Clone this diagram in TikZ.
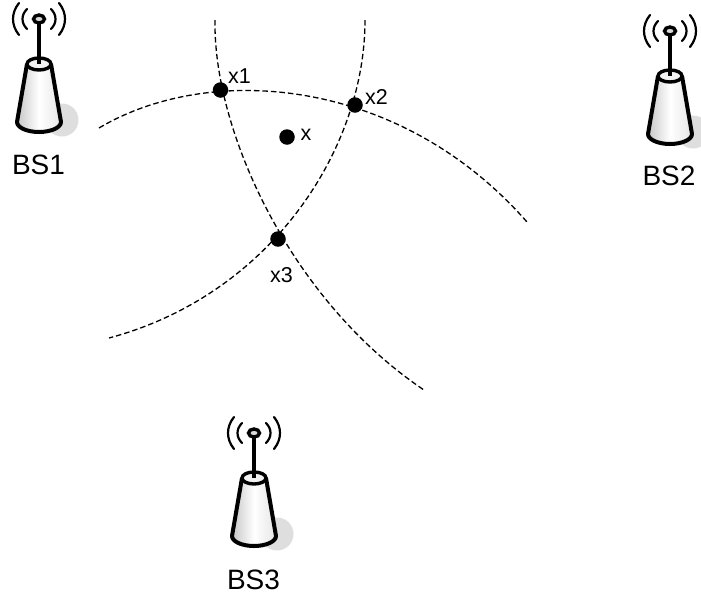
\documentclass[tikz,border=0pt]{standalone}
\usepackage{fontspec}
\setmainfont{Liberation Sans}
\tikzset{
  blackdot/.style={circle,fill=black,inner sep=0pt,minimum size=15.5pt},
  lbl/.style={inner sep=0pt,font=\fontsize{21.5}{21.5}\selectfont},
  bslbl/.style={inner sep=0pt,font=\fontsize{28}{28}\selectfont},
  arcline/.style={dash pattern=on 5.5pt off 3pt,line width=1.3pt},
  pics/tower/.style={code={
    \fill[black!13] (23,101) circle (16.5);
    \path[left color=black!22,right color=black!10,middle color=white] (-12,45) -- (-22,103) arc[start angle=180,end angle=0,x radius=22,y radius=10] -- (12,45) -- cycle;
    \draw[line width=4pt,line join=round] (-12,45) -- (-22,103) arc[start angle=180,end angle=0,x radius=22,y radius=10] -- (12,45);
    \draw[line width=3.4pt,fill=black!5] (0,45) ellipse[x radius=12,y radius=6];
    \draw[line width=3.6pt] (0,5) -- (0,45);
    \draw[line width=3.4pt,fill=black!15] (0,0) ellipse[x radius=5.5,y radius=4];
    \draw[line width=2.2pt,line cap=round] (-12,-10) .. controls (-18,-4) and (-18,4) .. (-12,10);
    \draw[line width=2.2pt,line cap=round] (12,-10) .. controls (18,-4) and (18,4) .. (12,10);
    \draw[line width=2.2pt,line cap=round] (-20,-16) .. controls (-28,-6) and (-28,6) .. (-20,16);
    \draw[line width=2.2pt,line cap=round] (20,-16) .. controls (28,-6) and (28,6) .. (20,16);
  }}
}
\begin{document}
\begin{tikzpicture}[x=1pt,y=-1pt]
\useasboundingbox (0,0) rectangle (701,595);
\pic at (39,19) {tower};
\pic at (670,31) {tower};
\pic at (254,433) {tower};
\node[bslbl] (bs1) at (38.5,165) {BS1};
\node[bslbl] (bs2) at (669,175.5) {BS2};
\node[bslbl] (bs3) at (253.5,580) {BS3};
\coordinate (a0) at (215,20);
\coordinate (a1) at (424,390);
\coordinate (b0) at (99,128);
\coordinate (b1) at (527,222);
\coordinate (c0) at (365,20);
\coordinate (c1) at (109,338);
\node[blackdot] (x1) at (220.5,90) {};
\node[blackdot] (x2) at (355,105) {};
\node[blackdot] (x3) at (278,239) {};
\node[blackdot] (x) at (287,137) {};
\draw[arcline] (a0) .. controls (213,130) and (290,300) .. (a1);
\draw[arcline] (b0) .. controls (210,62) and (400,77) .. (b1);
\draw[arcline] (c0) .. controls (365,150) and (270,295) .. (c1);
\node[lbl,anchor=west] (lx1) at (228,76.5) {x1};
\node[lbl,anchor=west] (lx2) at (365,97) {x2};
\node[lbl,anchor=west] (lx) at (300.5,135) {x};
\node[lbl,anchor=west] (lx3) at (270,275.5) {x3};
\end{tikzpicture}
\end{document}
